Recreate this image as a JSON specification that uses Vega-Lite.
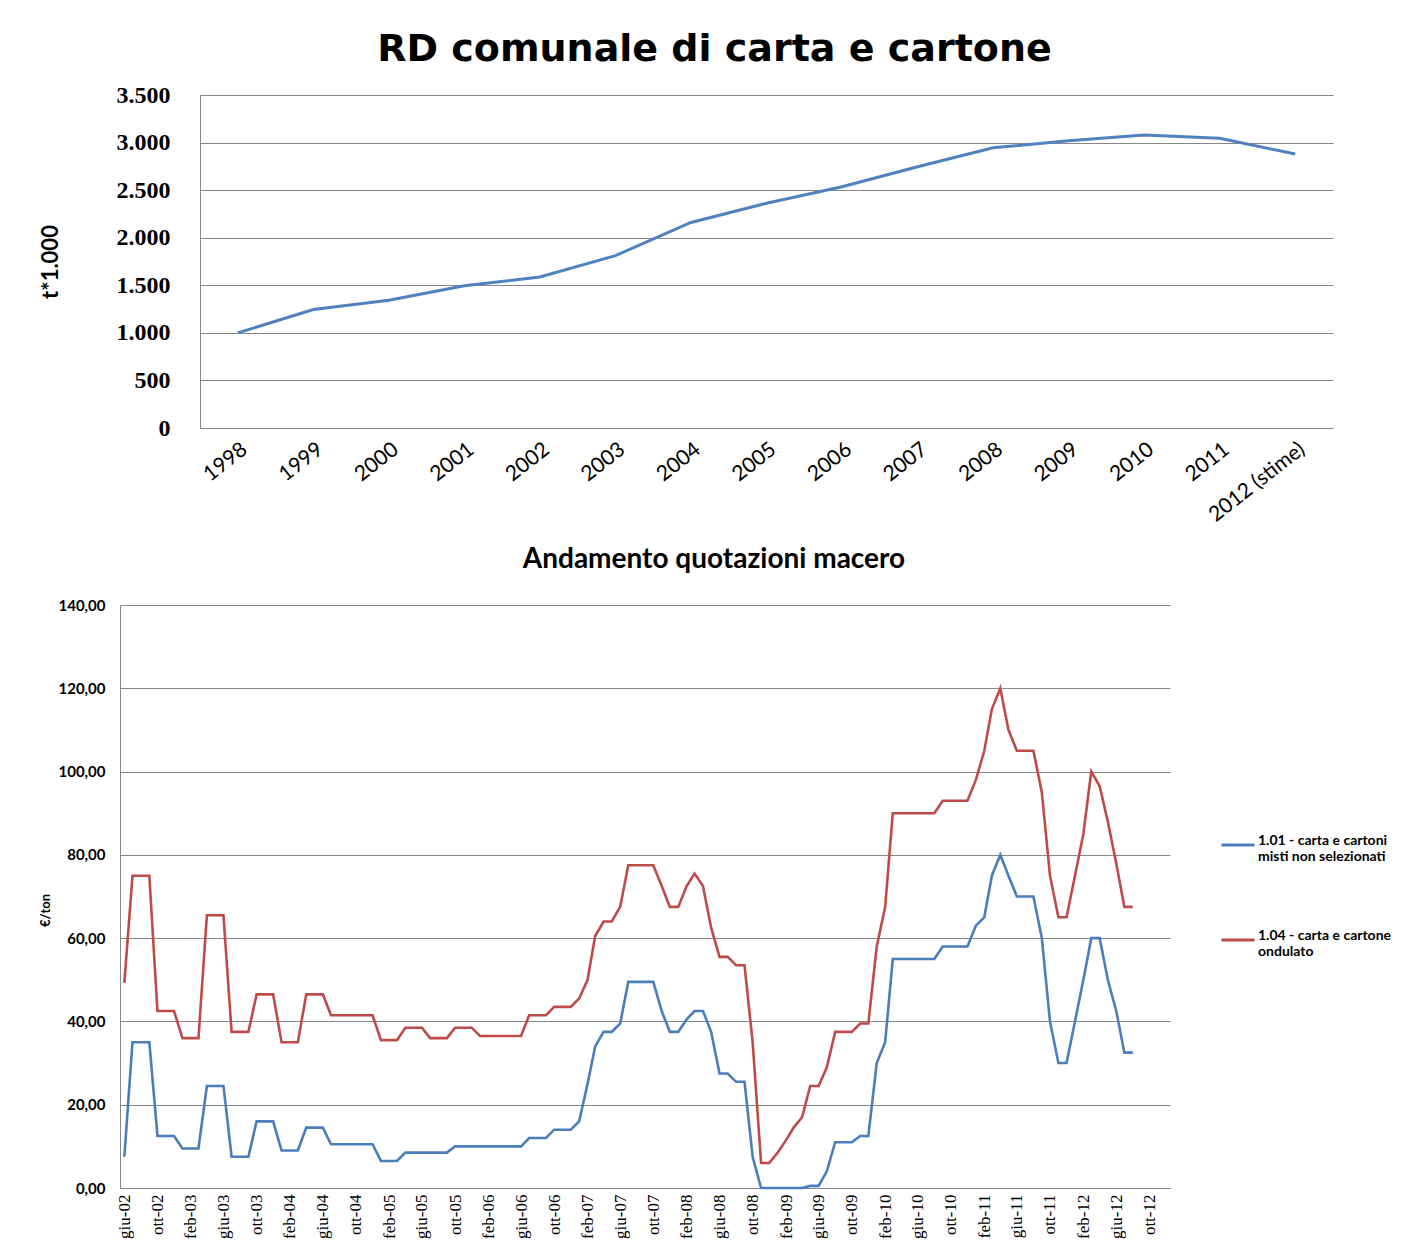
{
  "$schema": "https://vega.github.io/schema/vega-lite/v6.json",
  "background": "white",
  "padding": {"left": 39, "top": 31, "right": 0, "bottom": 0},
  "spacing": 20,
  "config": {"view": {"stroke": null}, "font": "Lato"},
  "vconcat": [
    {
      "title": {"text": "RD comunale di carta e cartone", "font": "DejaVu Sans", "fontSize": 38, "fontWeight": "bold", "color": "black", "anchor": "middle", "dx": -12, "baseline": "alphabetic", "offset": -16},
      "width": 1213,
      "height": 333,
      "data": {"values": [
        {"anno": "1998", "t": 1000},
        {"anno": "1999", "t": 1245},
        {"anno": "2000", "t": 1343},
        {"anno": "2001", "t": 1495},
        {"anno": "2002", "t": 1588},
        {"anno": "2003", "t": 1812},
        {"anno": "2004", "t": 2160},
        {"anno": "2005", "t": 2362},
        {"anno": "2006", "t": 2535},
        {"anno": "2007", "t": 2746},
        {"anno": "2008", "t": 2945},
        {"anno": "2009", "t": 3020},
        {"anno": "2010", "t": 3080},
        {"anno": "2011", "t": 3045},
        {"anno": "2012 (stime)", "t": 2880}
      ]},
      "mark": {"type": "line", "color": "#4F81BD", "strokeWidth": 3},
      "encoding": {
        "x": {"field": "anno", "type": "ordinal", "sort": null, "scale": {"type": "point", "padding": 0.5, "range": [80, 1213]},
          "axis": {"title": null, "labelAngle": -38, "labelAlign": "right", "labelBaseline": "top", "labelFont": "Lato", "labelFontSize": 21, "labelColor": "black", "ticks": false, "labelPadding": 10, "domainColor": "#878787", "grid": false, "labelOverlap": false}},
        "y": {"field": "t", "type": "quantitative", "scale": {"domain": [0, 3500]},
          "axis": {"offset": -80, "values": [0, 500, 1000, 1500, 2000, 2500, 3000, 3500], "labelExpr": "replace(format(datum.value, ','), ',', '.')", "labelFont": "Liberation Serif", "labelFontSize": 24, "labelFontWeight": "bold", "labelColor": "black", "labelPadding": 30, "ticks": false, "domainColor": "#878787", "gridColor": "#878787", "title": "t*1.000", "titleFont": "Lato", "titleFontSize": 22, "titleFontWeight": "bold", "titleColor": "black", "titleX": -150, "titleBaseline": "middle", "titleAlign": "center"}}
      }
    },
    {
      "title": {"text": "Andamento quotazioni macero", "font": "Lato", "fontSize": 28, "fontWeight": "bold", "color": "black", "anchor": "middle", "dx": 69, "baseline": "alphabetic", "offset": 2},
      "width": 1050,
      "height": 583,
      "data": {"values": [
        {"mese": "2002-06-01", "misti": 7.5, "ondulato": 49.25},
        {"mese": "2002-07-01", "misti": 35, "ondulato": 75},
        {"mese": "2002-08-01", "misti": 35, "ondulato": 75},
        {"mese": "2002-09-01", "misti": 35, "ondulato": 75},
        {"mese": "2002-10-01", "misti": 12.5, "ondulato": 42.5},
        {"mese": "2002-11-01", "misti": 12.5, "ondulato": 42.5},
        {"mese": "2002-12-01", "misti": 12.5, "ondulato": 42.5},
        {"mese": "2003-01-01", "misti": 9.5, "ondulato": 36},
        {"mese": "2003-02-01", "misti": 9.5, "ondulato": 36},
        {"mese": "2003-03-01", "misti": 9.5, "ondulato": 36},
        {"mese": "2003-04-01", "misti": 24.5, "ondulato": 65.5},
        {"mese": "2003-05-01", "misti": 24.5, "ondulato": 65.5},
        {"mese": "2003-06-01", "misti": 24.5, "ondulato": 65.5},
        {"mese": "2003-07-01", "misti": 7.5, "ondulato": 37.5},
        {"mese": "2003-08-01", "misti": 7.5, "ondulato": 37.5},
        {"mese": "2003-09-01", "misti": 7.5, "ondulato": 37.5},
        {"mese": "2003-10-01", "misti": 16, "ondulato": 46.5},
        {"mese": "2003-11-01", "misti": 16, "ondulato": 46.5},
        {"mese": "2003-12-01", "misti": 16, "ondulato": 46.5},
        {"mese": "2004-01-01", "misti": 9, "ondulato": 35},
        {"mese": "2004-02-01", "misti": 9, "ondulato": 35},
        {"mese": "2004-03-01", "misti": 9, "ondulato": 35},
        {"mese": "2004-04-01", "misti": 14.5, "ondulato": 46.5},
        {"mese": "2004-05-01", "misti": 14.5, "ondulato": 46.5},
        {"mese": "2004-06-01", "misti": 14.5, "ondulato": 46.5},
        {"mese": "2004-07-01", "misti": 10.5, "ondulato": 41.5},
        {"mese": "2004-08-01", "misti": 10.5, "ondulato": 41.5},
        {"mese": "2004-09-01", "misti": 10.5, "ondulato": 41.5},
        {"mese": "2004-10-01", "misti": 10.5, "ondulato": 41.5},
        {"mese": "2004-11-01", "misti": 10.5, "ondulato": 41.5},
        {"mese": "2004-12-01", "misti": 10.5, "ondulato": 41.5},
        {"mese": "2005-01-01", "misti": 6.5, "ondulato": 35.5},
        {"mese": "2005-02-01", "misti": 6.5, "ondulato": 35.5},
        {"mese": "2005-03-01", "misti": 6.5, "ondulato": 35.5},
        {"mese": "2005-04-01", "misti": 8.5, "ondulato": 38.5},
        {"mese": "2005-05-01", "misti": 8.5, "ondulato": 38.5},
        {"mese": "2005-06-01", "misti": 8.5, "ondulato": 38.5},
        {"mese": "2005-07-01", "misti": 8.5, "ondulato": 36},
        {"mese": "2005-08-01", "misti": 8.5, "ondulato": 36},
        {"mese": "2005-09-01", "misti": 8.5, "ondulato": 36},
        {"mese": "2005-10-01", "misti": 10, "ondulato": 38.5},
        {"mese": "2005-11-01", "misti": 10, "ondulato": 38.5},
        {"mese": "2005-12-01", "misti": 10, "ondulato": 38.5},
        {"mese": "2006-01-01", "misti": 10, "ondulato": 36.5},
        {"mese": "2006-02-01", "misti": 10, "ondulato": 36.5},
        {"mese": "2006-03-01", "misti": 10, "ondulato": 36.5},
        {"mese": "2006-04-01", "misti": 10, "ondulato": 36.5},
        {"mese": "2006-05-01", "misti": 10, "ondulato": 36.5},
        {"mese": "2006-06-01", "misti": 10, "ondulato": 36.5},
        {"mese": "2006-07-01", "misti": 12, "ondulato": 41.5},
        {"mese": "2006-08-01", "misti": 12, "ondulato": 41.5},
        {"mese": "2006-09-01", "misti": 12, "ondulato": 41.5},
        {"mese": "2006-10-01", "misti": 14, "ondulato": 43.5},
        {"mese": "2006-11-01", "misti": 14, "ondulato": 43.5},
        {"mese": "2006-12-01", "misti": 14, "ondulato": 43.5},
        {"mese": "2007-01-01", "misti": 16, "ondulato": 45.5},
        {"mese": "2007-02-01", "misti": 25, "ondulato": 50},
        {"mese": "2007-03-01", "misti": 34, "ondulato": 60.5},
        {"mese": "2007-04-01", "misti": 37.5, "ondulato": 64},
        {"mese": "2007-05-01", "misti": 37.5, "ondulato": 64},
        {"mese": "2007-06-01", "misti": 39.5, "ondulato": 67.5},
        {"mese": "2007-07-01", "misti": 49.5, "ondulato": 77.5},
        {"mese": "2007-08-01", "misti": 49.5, "ondulato": 77.5},
        {"mese": "2007-09-01", "misti": 49.5, "ondulato": 77.5},
        {"mese": "2007-10-01", "misti": 49.5, "ondulato": 77.5},
        {"mese": "2007-11-01", "misti": 42.5, "ondulato": 72.5},
        {"mese": "2007-12-01", "misti": 37.5, "ondulato": 67.5},
        {"mese": "2008-01-01", "misti": 37.5, "ondulato": 67.5},
        {"mese": "2008-02-01", "misti": 40.5, "ondulato": 72.5},
        {"mese": "2008-03-01", "misti": 42.5, "ondulato": 75.5},
        {"mese": "2008-04-01", "misti": 42.5, "ondulato": 72.5},
        {"mese": "2008-05-01", "misti": 37.5, "ondulato": 62.5},
        {"mese": "2008-06-01", "misti": 27.5, "ondulato": 55.5},
        {"mese": "2008-07-01", "misti": 27.5, "ondulato": 55.5},
        {"mese": "2008-08-01", "misti": 25.5, "ondulato": 53.5},
        {"mese": "2008-09-01", "misti": 25.5, "ondulato": 53.5},
        {"mese": "2008-10-01", "misti": 7.5, "ondulato": 35},
        {"mese": "2008-11-01", "misti": 0, "ondulato": 6},
        {"mese": "2008-12-01", "misti": 0, "ondulato": 6},
        {"mese": "2009-01-01", "misti": 0, "ondulato": 8.5},
        {"mese": "2009-02-01", "misti": 0, "ondulato": 11.5},
        {"mese": "2009-03-01", "misti": 0, "ondulato": 14.5},
        {"mese": "2009-04-01", "misti": 0, "ondulato": 17},
        {"mese": "2009-05-01", "misti": 0.5, "ondulato": 24.5},
        {"mese": "2009-06-01", "misti": 0.5, "ondulato": 24.5},
        {"mese": "2009-07-01", "misti": 4, "ondulato": 29},
        {"mese": "2009-08-01", "misti": 11, "ondulato": 37.5},
        {"mese": "2009-09-01", "misti": 11, "ondulato": 37.5},
        {"mese": "2009-10-01", "misti": 11, "ondulato": 37.5},
        {"mese": "2009-11-01", "misti": 12.5, "ondulato": 39.5},
        {"mese": "2009-12-01", "misti": 12.5, "ondulato": 39.5},
        {"mese": "2010-01-01", "misti": 30, "ondulato": 58},
        {"mese": "2010-02-01", "misti": 35, "ondulato": 67.5},
        {"mese": "2010-03-01", "misti": 55, "ondulato": 90},
        {"mese": "2010-04-01", "misti": 55, "ondulato": 90},
        {"mese": "2010-05-01", "misti": 55, "ondulato": 90},
        {"mese": "2010-06-01", "misti": 55, "ondulato": 90},
        {"mese": "2010-07-01", "misti": 55, "ondulato": 90},
        {"mese": "2010-08-01", "misti": 55, "ondulato": 90},
        {"mese": "2010-09-01", "misti": 58, "ondulato": 93},
        {"mese": "2010-10-01", "misti": 58, "ondulato": 93},
        {"mese": "2010-11-01", "misti": 58, "ondulato": 93},
        {"mese": "2010-12-01", "misti": 58, "ondulato": 93},
        {"mese": "2011-01-01", "misti": 63, "ondulato": 98},
        {"mese": "2011-02-01", "misti": 65, "ondulato": 105},
        {"mese": "2011-03-01", "misti": 75, "ondulato": 115},
        {"mese": "2011-04-01", "misti": 80, "ondulato": 120},
        {"mese": "2011-05-01", "misti": 75, "ondulato": 110},
        {"mese": "2011-06-01", "misti": 70, "ondulato": 105},
        {"mese": "2011-07-01", "misti": 70, "ondulato": 105},
        {"mese": "2011-08-01", "misti": 70, "ondulato": 105},
        {"mese": "2011-09-01", "misti": 60, "ondulato": 95},
        {"mese": "2011-10-01", "misti": 40, "ondulato": 75},
        {"mese": "2011-11-01", "misti": 30, "ondulato": 65},
        {"mese": "2011-12-01", "misti": 30, "ondulato": 65},
        {"mese": "2012-01-01", "misti": 40, "ondulato": 75},
        {"mese": "2012-02-01", "misti": 50, "ondulato": 85},
        {"mese": "2012-03-01", "misti": 60, "ondulato": 100},
        {"mese": "2012-04-01", "misti": 60, "ondulato": 96.5},
        {"mese": "2012-05-01", "misti": 50, "ondulato": 88},
        {"mese": "2012-06-01", "misti": 42.5, "ondulato": 78},
        {"mese": "2012-07-01", "misti": 32.5, "ondulato": 67.5},
        {"mese": "2012-08-01", "misti": 32.5, "ondulato": 67.5}
      ]},
      "transform": [{"fold": ["misti", "ondulato"], "as": ["serie", "valore"]}],
      "mark": {"type": "line", "strokeWidth": 2.6},
      "encoding": {
        "x": {"field": "mese", "type": "temporal",
          "scale": {"type": "utc", "domain": [{"year": 2002, "month": 5, "date": 16, "utc": true}, {"year": 2012, "month": 12, "date": 16, "utc": true}]},
          "axis": {
            "values": [
              {"year": 2002, "month": 6, "date": 1, "utc": true}, {"year": 2002, "month": 10, "date": 1, "utc": true},
              {"year": 2003, "month": 2, "date": 1, "utc": true}, {"year": 2003, "month": 6, "date": 1, "utc": true}, {"year": 2003, "month": 10, "date": 1, "utc": true},
              {"year": 2004, "month": 2, "date": 1, "utc": true}, {"year": 2004, "month": 6, "date": 1, "utc": true}, {"year": 2004, "month": 10, "date": 1, "utc": true},
              {"year": 2005, "month": 2, "date": 1, "utc": true}, {"year": 2005, "month": 6, "date": 1, "utc": true}, {"year": 2005, "month": 10, "date": 1, "utc": true},
              {"year": 2006, "month": 2, "date": 1, "utc": true}, {"year": 2006, "month": 6, "date": 1, "utc": true}, {"year": 2006, "month": 10, "date": 1, "utc": true},
              {"year": 2007, "month": 2, "date": 1, "utc": true}, {"year": 2007, "month": 6, "date": 1, "utc": true}, {"year": 2007, "month": 10, "date": 1, "utc": true},
              {"year": 2008, "month": 2, "date": 1, "utc": true}, {"year": 2008, "month": 6, "date": 1, "utc": true}, {"year": 2008, "month": 10, "date": 1, "utc": true},
              {"year": 2009, "month": 2, "date": 1, "utc": true}, {"year": 2009, "month": 6, "date": 1, "utc": true}, {"year": 2009, "month": 10, "date": 1, "utc": true},
              {"year": 2010, "month": 2, "date": 1, "utc": true}, {"year": 2010, "month": 6, "date": 1, "utc": true}, {"year": 2010, "month": 10, "date": 1, "utc": true},
              {"year": 2011, "month": 2, "date": 1, "utc": true}, {"year": 2011, "month": 6, "date": 1, "utc": true}, {"year": 2011, "month": 10, "date": 1, "utc": true},
              {"year": 2012, "month": 2, "date": 1, "utc": true}, {"year": 2012, "month": 6, "date": 1, "utc": true}, {"year": 2012, "month": 10, "date": 1, "utc": true}
            ],
            "labelExpr": "['gen','feb','mar','apr','mag','giu','lug','ago','set','ott','nov','dic'][utcmonth(datum.value)] + '-' + utcFormat(datum.value, '%y')",
            "labelAngle": 270, "labelAlign": "right", "labelBaseline": "middle", "labelFont": "Liberation Serif", "labelFontSize": 17, "labelColor": "black",
            "labelPadding": 6, "labelOverlap": false, "labelFlush": false, "ticks": false, "grid": false, "title": null, "domainColor": "#878787"}},
        "y": {"field": "valore", "type": "quantitative", "scale": {"domain": [0, 140]},
          "axis": {"values": [0, 20, 40, 60, 80, 100, 120, 140], "labelExpr": "replace(format(datum.value, '.2f'), '.', ',')", "labelFont": "Lato", "labelFontSize": 15, "labelFontWeight": "bold", "labelColor": "black", "labelPadding": 15, "ticks": false, "domainColor": "#878787", "gridColor": "#878787",
            "title": "€/ton", "titleFont": "Lato", "titleFontSize": 13, "titleFontWeight": "bold", "titleColor": "black", "titleX": -74.5, "titleY": 305, "titleBaseline": "middle", "titleAlign": "center"}},
        "color": {"field": "serie", "type": "nominal", "scale": {"domain": ["misti", "ondulato"], "range": ["#4A7EBB", "#BE4B48"]},
          "legend": {"orient": "none", "legendX": 1100, "legendY": 732, "title": null, "padding": 0, "symbolType": "stroke", "symbolSize": 1089, "symbolStrokeWidth": 3, "labelFont": "Lato", "labelFontSize": 14, "labelFontWeight": "bold", "labelColor": "black", "labelOffset": 2, "labelLimit": 400, "labelBaseline": "alphabetic", "rowPadding": 58,
            "labelExpr": "datum.label == 'misti' ? ['1.01 - carta e cartoni', 'misti non selezionati'] : ['1.04 - carta e cartone', 'ondulato']"}}
      }
    }
  ]
}
